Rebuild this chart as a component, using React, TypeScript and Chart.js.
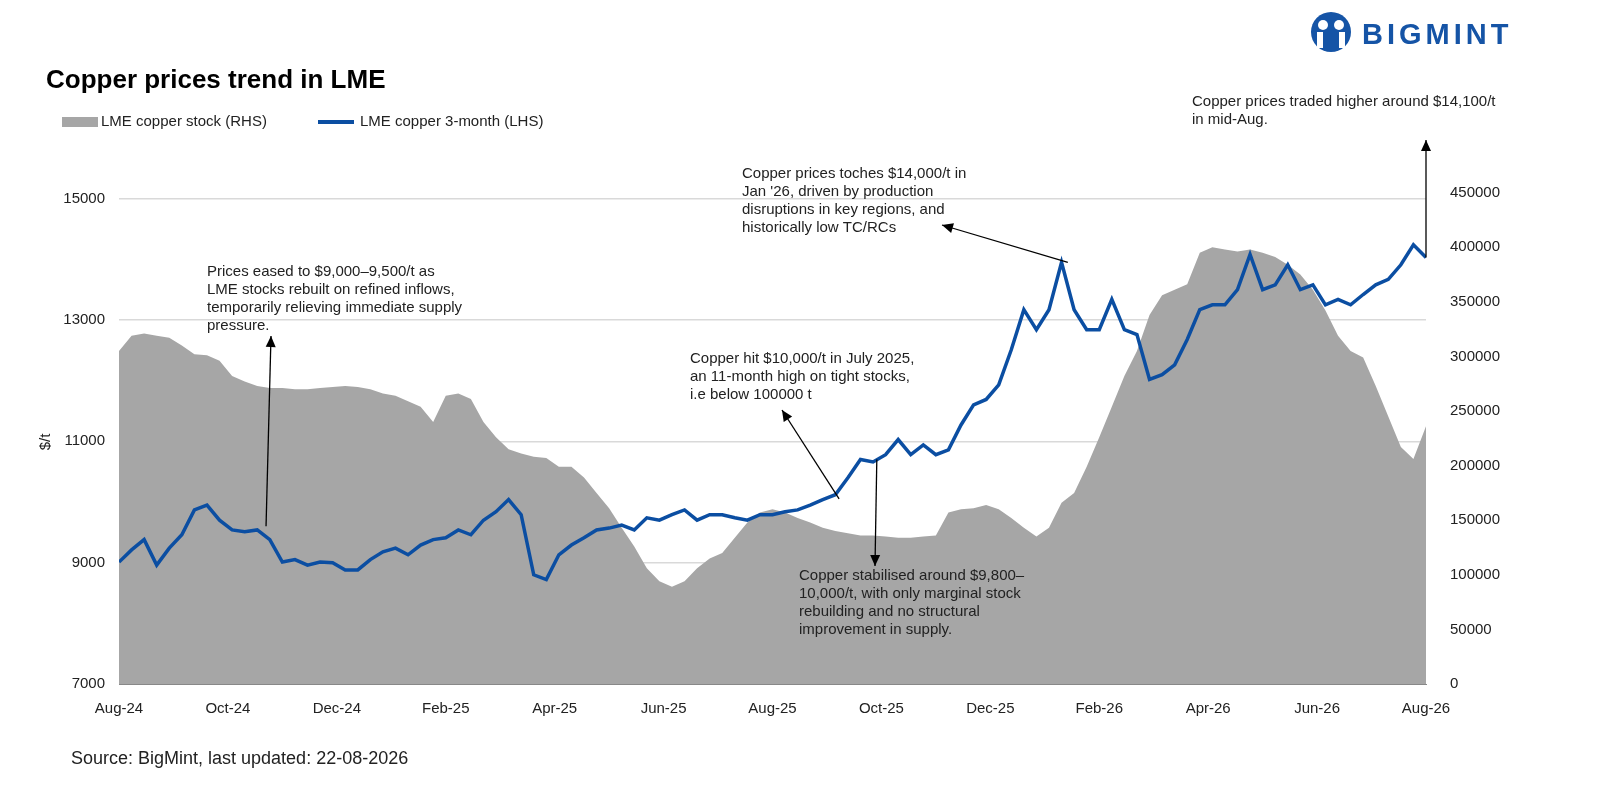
import React, { useEffect, useRef } from "react";
import { Chart, registerables } from "chart.js";
Chart.register(...registerables);

const monthLabels = ["Aug-24","Oct-24","Dec-24","Feb-25","Apr-25","Jun-25","Aug-25","Oct-25","Dec-25","Feb-26","Apr-26","Jun-26","Aug-26"];

const priceValues = [9010,9210,9380,8960,9240,9460,9870,9950,9700,9540,9510,9540,9380,9010,9050,8960,9010,9000,8880,8880,9050,9180,9240,9130,9290,9380,9410,9540,9460,9700,9840,10040,9790,8800,8720,9130,9290,9410,9540,9570,9620,9540,9740,9700,9790,9870,9700,9790,9790,9740,9700,9790,9790,9840,9870,9950,10040,10120,10400,10700,10660,10780,11030,10780,10940,10780,10860,11270,11600,11690,11930,12510,13170,12840,13170,13950,13170,12840,12840,13340,12840,12760,12020,12100,12260,12680,13170,13250,13250,13500,14080,13500,13580,13910,13500,13580,13250,13340,13250,13420,13580,13670,13910,14240,14030];

const stockValues = [305000,319000,321000,319000,317000,310000,302000,301000,296000,282000,277000,273000,271000,271000,270000,270000,271000,272000,273000,272000,270000,266000,264000,259000,254000,240000,264000,266000,261000,240000,226000,215000,211000,208000,207000,199000,199000,189000,175000,161000,143000,126000,106000,94000,89000,94000,106000,115000,120000,134000,148000,157000,160000,157000,152000,148000,143000,140000,138000,136000,136000,135000,134000,134000,135000,136000,157000,160000,161000,164000,160000,152000,143000,135000,143000,166000,175000,199000,226000,254000,282000,305000,338000,356000,361000,366000,395000,400000,398000,396000,398000,395000,391000,384000,375000,361000,342000,319000,305000,299000,273000,245000,217000,206000,236000];

const leftTicks = [7000, 9000, 11000, 13000, 15000];
const rightTicks = [0, 50000, 100000, 150000, 200000, 250000, 300000, 350000, 400000, 450000];

const FONT = "'Liberation Sans', Arial, sans-serif";
const TXT = "#222";

export default function App() {
  const ref = useRef<HTMLCanvasElement>(null);
  useEffect(() => {
    const n = priceValues.length;
    const step = (n - 1) / 24;
    const annot = {
      id: "annot",
      afterDraw(chart: any) {
        const c = chart.ctx;
        const xs = chart.scales.x, yL = chart.scales.y;
        c.save();
        c.fillStyle = "#000";
        c.font = `bold 26px ${FONT}`;
        c.textBaseline = "middle";
        c.fillText("Copper prices trend in LME", 46, 81);
        c.fillStyle = "#a6a6a6";
        c.fillRect(62, 117, 36, 10);
        c.font = `15px ${FONT}`;
        c.fillStyle = TXT;
        c.fillText("LME copper stock (RHS)", 101, 122);
        c.strokeStyle = "#0b4ea2"; c.lineWidth = 4;
        c.beginPath(); c.moveTo(318, 122); c.lineTo(354, 122); c.stroke();
        c.fillText("LME copper 3-month (LHS)", 360, 122);
        c.save(); c.translate(46, 442); c.rotate(-Math.PI / 2);
        c.textAlign = "center"; c.font = `15px ${FONT}`; c.fillText("$/t", 0, 0); c.restore();
        c.font = `18px ${FONT}`; c.fillText("Source: BigMint, last updated: 22-08-2026", 71, 759);
        c.fillStyle = "#1554a6";
        c.beginPath(); c.arc(1331, 32, 20, 0, Math.PI * 2); c.fill();
        c.fillStyle = "#fff";
        c.beginPath(); c.arc(1323, 25, 5, 0, Math.PI * 2); c.fill();
        c.beginPath(); c.arc(1339, 25, 5, 0, Math.PI * 2); c.fill();
        c.fillRect(1317, 32, 6, 16); c.fillRect(1339, 32, 6, 16);
        c.fillStyle = "#1554a6";
        c.font = `bold 29px ${FONT}`;
        (c as any).letterSpacing = "4px";
        c.fillText("BIGMINT", 1362, 36);
        (c as any).letterSpacing = "0px";
        c.fillStyle = TXT; c.font = `15px ${FONT}`;
        const block = (lines: string[], x: number, y: number) => lines.forEach((l, i) => c.fillText(l, x, y + i * 18));
        block(["Prices eased to $9,000–9,500/t as","LME stocks rebuilt on refined inflows,","temporarily relieving immediate supply","pressure."], 207, 272);
        block(["Copper hit $10,000/t in July 2025,","an 11-month high on tight stocks,","i.e below 100000 t"], 690, 359);
        block(["Copper stabilised around $9,800–","10,000/t, with only marginal stock","rebuilding and no structural","improvement in supply."], 799, 576);
        block(["Copper prices toches $14,000/t in","Jan '26, driven by production","disruptions in key regions, and","historically low TC/RCs"], 742, 174);
        block(["Copper prices traded higher around $14,100/t","in mid-Aug."], 1192, 102);
        const arrow = (x1: number, y1: number, x2: number, y2: number) => {
          c.strokeStyle = "#000"; c.fillStyle = "#000"; c.lineWidth = 1.3;
          c.beginPath(); c.moveTo(x1, y1); c.lineTo(x2, y2); c.stroke();
          const a = Math.atan2(y2 - y1, x2 - x1), L = 11, W = 5;
          c.beginPath(); c.moveTo(x2, y2);
          c.lineTo(x2 - L * Math.cos(a) + W * Math.sin(a), y2 - L * Math.sin(a) - W * Math.cos(a));
          c.lineTo(x2 - L * Math.cos(a) - W * Math.sin(a), y2 - L * Math.sin(a) + W * Math.cos(a));
          c.closePath(); c.fill();
        };
        arrow(xs.getPixelForValue(11.7), yL.getPixelForValue(9600), 271, 336);
        arrow(xs.getPixelForValue(57.3), yL.getPixelForValue(10050), 782, 410);
        arrow(xs.getPixelForValue(60.3), yL.getPixelForValue(10700), 875, 566);
        arrow(xs.getPixelForValue(75.5), yL.getPixelForValue(13950), 942, 225);
        arrow(xs.getPixelForValue(104), yL.getPixelForValue(14030), 1426, 140);
        c.restore();
      },
    };
    const chart = new Chart(ref.current!, {
      type: "line",
      data: {
        labels: priceValues.map((_, i) => i),
        datasets: [
          { label: "LME copper 3-month (LHS)", data: priceValues.map((v, i) => ({ x: i, y: v })), borderColor: "#0b4ea2", borderWidth: 3.5, pointRadius: 0, yAxisID: "y", order: 0, tension: 0 },
          { label: "LME copper stock (RHS)", data: stockValues.map((v, i) => ({ x: i, y: v })), borderWidth: 0, backgroundColor: "#a6a6a6", fill: "origin", pointRadius: 0, yAxisID: "y1", order: 1 },
        ],
      },
      options: {
        animation: false, responsive: false,
        layout: { padding: { top: 138, left: 0, right: 0, bottom: 0 } },
        plugins: { legend: { display: false }, tooltip: { enabled: false } },
        scales: {
          x: {
            type: "linear", min: 0, max: n - 1,
            afterFit: (s: any) => { s.height = 125; },
            afterBuildTicks: (s: any) => { s.ticks = monthLabels.map((_, k) => ({ value: k * 2 * step })); },
            ticks: { autoSkip: false, maxRotation: 0, padding: 8, color: TXT, font: { size: 15, family: FONT }, callback: (_v: any, i: number) => monthLabels[i] },
            grid: { display: false }, border: { color: "#888" },
          },
          y: {
            position: "left", min: 7000, max: 16000,
            afterFit: (s: any) => { s.width = 119; },
            afterBuildTicks: (s: any) => { s.ticks = leftTicks.map((v) => ({ value: v })); },
            ticks: { padding: 14, color: TXT, font: { size: 15, family: FONT }, callback: (v: any) => String(v) },
            grid: { color: "#d9d9d9", lineWidth: 1.5, drawTicks: false }, border: { display: false },
          },
          y1: {
            position: "right", min: 0, max: 500000,
            afterFit: (s: any) => { s.width = 174; },
            afterBuildTicks: (s: any) => { s.ticks = rightTicks.map((v) => ({ value: v })); },
            ticks: { padding: 16, color: TXT, font: { size: 15, family: FONT }, callback: (v: any) => String(v) },
            grid: { display: false }, border: { display: false },
          },
        },
      },
      plugins: [annot],
    } as any);
    return () => chart.destroy();
  }, []);
  return <canvas ref={ref} width={1600} height={809} style={{ position: "absolute", left: 0, top: 0 }} />;
}
